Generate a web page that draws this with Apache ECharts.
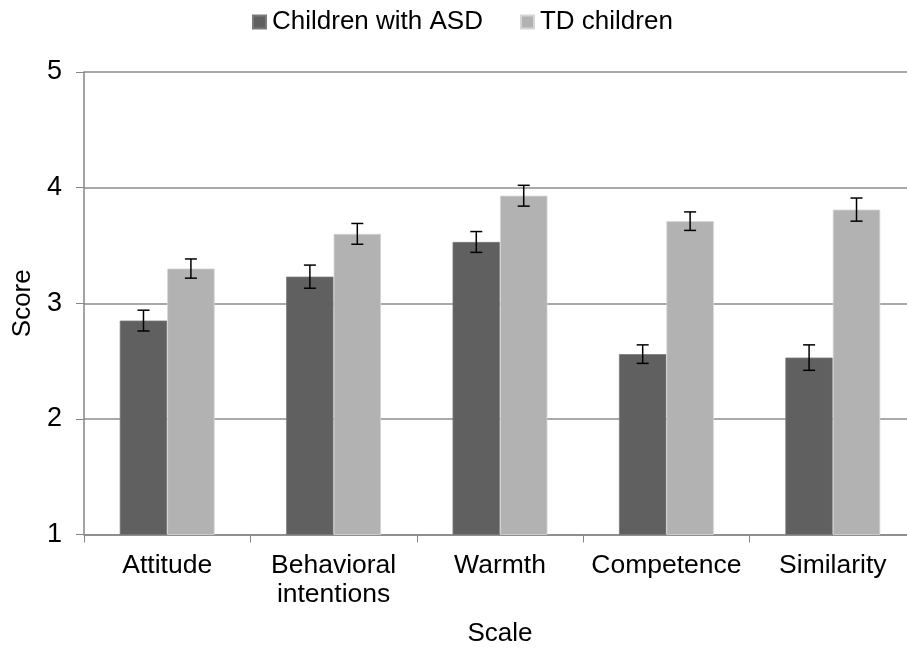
<!DOCTYPE html>
<html>
<head>
<meta charset="utf-8">
<script src="https://cdn.jsdelivr.net/npm/echarts@6/dist/echarts.min.js"></script>
<style>html,body{margin:0;padding:0;background:#fff}#c{width:907px;height:653px}</style>
</head>
<body>
<div id="c"></div>
<script>
const categories = ['Attitude', 'Behavioral\nintentions', 'Warmth', 'Competence', 'Similarity'];
const seriesNames = ['Children with ASD', 'TD children'];
const asdMeans = [2.85, 3.23, 3.53, 2.56, 2.53];
const asdErrors = [0.09, 0.10, 0.09, 0.08, 0.11];
const tdMeans = [3.30, 3.60, 3.93, 3.71, 3.81];
const tdErrors = [0.083, 0.09, 0.09, 0.08, 0.10];
const yTicks = [1, 2, 3, 4, 5];

const FONT = '"Liberation Sans", Arial, sans-serif';
const CAT_GAP = 0.43;

const errData = [];
asdMeans.forEach((m, i) => errData.push([i, m - asdErrors[i], m + asdErrors[i], 0]));
tdMeans.forEach((m, i) => errData.push([i, m - tdErrors[i], m + tdErrors[i], 1]));

const chart = echarts.init(document.getElementById('c'));
chart.setOption({
  animation: false,
  backgroundColor: '#fff',
  textStyle: { fontFamily: FONT },
  legend: {
    data: seriesNames,
    top: 4,
    left: 247,
    icon: 'rect',
    itemWidth: 13,
    itemHeight: 13,
    itemGap: 37,
    textStyle: { fontFamily: FONT, fontSize: 26, color: '#000', padding: [0, 0, 0, 1] }
  },
  grid: { left: 84, top: 72, width: 832, height: 462.5, outerBoundsMode: 'none', containLabel: false },
  xAxis: {
    type: 'category',
    data: categories,
    name: 'Scale',
    nameLocation: 'middle',
    nameGap: 86,
    nameTextStyle: { fontFamily: FONT, fontSize: 26, color: '#000' },
    axisLine: { lineStyle: { color: '#868686', width: 1.5 } },
    axisTick: { show: true, length: 8, lineStyle: { color: '#868686' } },
    axisLabel: { fontFamily: FONT, fontSize: 26.5, color: '#000', margin: 17, lineHeight: 29, interval: 0 }
  },
  yAxis: {
    type: 'value',
    min: 1,
    max: 5,
    interval: 1,
    name: 'Score',
    nameLocation: 'middle',
    nameGap: 43,
    nameTextStyle: { fontFamily: FONT, fontSize: 26, color: '#000' },
    axisLine: { show: true, lineStyle: { color: '#868686', width: 1.5 } },
    axisTick: { show: true, length: 8, lineStyle: { color: '#868686' } },
    axisLabel: {
      fontFamily: FONT, fontSize: 27, color: '#000', margin: 22,
      formatter: v => yTicks.includes(v) ? String(v) : ''
    },
    splitLine: { show: true, lineStyle: { color: '#8c8c8c', width: 1.5 } }
  },
  series: [
    {
      name: seriesNames[0], type: 'bar', data: asdMeans,
      barGap: '0%', barCategoryGap: (CAT_GAP * 100) + '%',
      itemStyle: { color: '#606060', borderColor: '#7a7a7a', borderWidth: 0.8 }
    },
    {
      name: seriesNames[1], type: 'bar', data: tdMeans,
      barGap: '0%', barCategoryGap: (CAT_GAP * 100) + '%',
      itemStyle: { color: '#b2b2b2', borderColor: '#d6d6d6', borderWidth: 0.8 }
    },
    {
      type: 'custom',
      name: 'errors',
      data: errData,
      z: 10,
      silent: true,
      renderItem: function (params, api) {
        const cat = api.value(0);
        const lo = api.value(1);
        const hi = api.value(2);
        const s = api.value(3);
        const band = api.size([1, 0])[0];
        const bw = band * (1 - CAT_GAP) / 2;
        const c = api.coord([cat, lo]);
        const x = c[0] + (s === 0 ? -bw / 2 : bw / 2);
        const yLo = c[1];
        const yHi = api.coord([cat, hi])[1];
        const cap = 6;
        const style = { stroke: '#000', lineWidth: 1.5 };
        return {
          type: 'group',
          children: [
            { type: 'line', shape: { x1: x, y1: yLo, x2: x, y2: yHi }, style },
            { type: 'line', shape: { x1: x - cap, y1: yLo, x2: x + cap, y2: yLo }, style },
            { type: 'line', shape: { x1: x - cap, y1: yHi, x2: x + cap, y2: yHi }, style }
          ]
        };
      }
    }
  ]
});
</script>
</body>
</html>
